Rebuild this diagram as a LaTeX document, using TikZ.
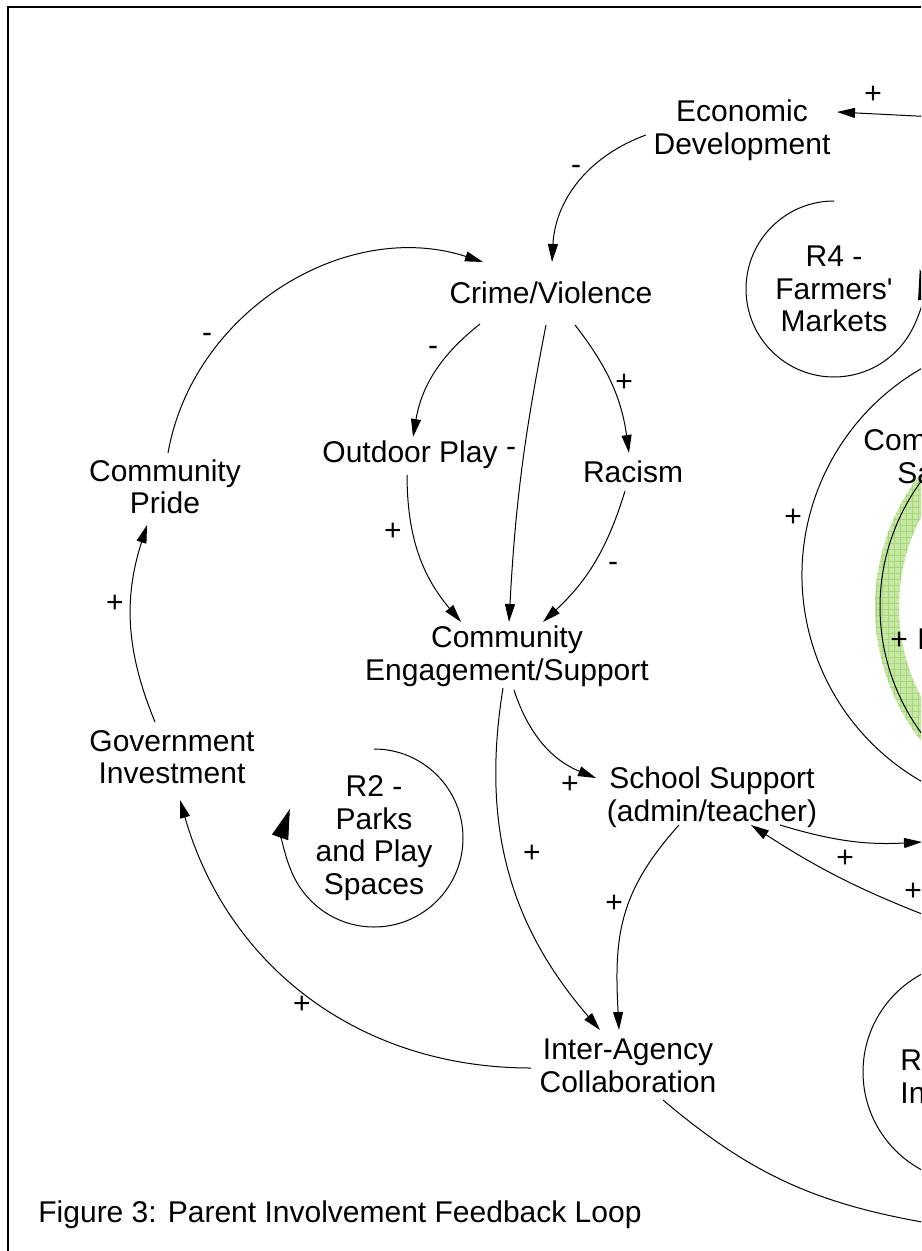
\documentclass[tikz,border=0pt]{standalone}
\usepackage{fontspec}
\setmainfont{Liberation Sans}
\usetikzlibrary{arrows.meta,calc,patterns}
\definecolor{bandgreen}{RGB}{198,232,164}
\definecolor{gridgreen}{RGB}{166,214,122}
\newcommand{\cldfont}{\fontsize{15}{16.25}\selectfont}

\begin{document}
\begin{tikzpicture}[
    x=0.5pt, y=0.5pt,
    var/.style={align=center,inner sep=0pt,font=\cldfont},
    pol/.style={inner sep=0pt,font=\cldfont,text height=10.5pt,text depth=0pt},
    link/.style={-{Triangle[length=9pt,width=5pt]},line width=0.5pt},
    loopline/.style={-{Triangle[length=15pt,width=8.5pt]},line width=0.5pt}
]
\path[use as bounding box] (0,0) rectangle (921,-1251);
\fill[white] (0,0) rectangle (921,-1251);
\clip (0,0) rectangle (921,-1251);

% highlighted link
\fill[bandgreen,postaction={pattern=grid,pattern color=gridgreen}]
  (1093,-607) ++(130:218) arc[start angle=130,end angle=230,radius=218]
  -- ($(1093,-607)+(230:194)$) arc[start angle=230,end angle=130,radius=194] -- cycle;

% frame
\draw[line width=1.2pt] (8,-1270) -- (8,-7) -- (940,-7);

% ends outside the picture
\coordinate (offE) at (975,-119);
\coordinate (offF) at (922,-842);
\coordinate (offG) at (940,-921);
\coordinate (offH) at (922,-1222);
\coordinate (offI) at ($(1040,-575)+(110:238)$);
\coordinate (offJ) at ($(1093,-607)+(130:213)$);
\coordinate (r3c) at (974,-1072);

% variables
\node[var] (ed)  at (742,-130)  {Economic\\Development};
\node[var] (cv)  at (551,-293)  {Crime/Violence};
\node[var] (op)  at (410,-455)  {Outdoor Play};
\node[var] (ra)  at (633,-472)  {Racism};
\node[var] (ce)  at (507,-656)  {Community\\Engagement/Support};
\node[var] (cp)  at (165,-487)  {Community\\Pride};
\node[var] (gi)  at (172,-757)  {Government\\Investment};
\node[var] (ss)  at (712,-797)  {School Support\\(admin/teacher)};
\node[var] (iac) at (628,-1066) {Inter-Agency\\Collaboration};
\node[var,anchor=west] (cs1) at (863,-440) {Com};
\node[var,anchor=west] (cs2) at (897,-473) {Sa};
\node[var,anchor=west] (ri1) at (900,-1060) {R};
\node[var,anchor=west] (ri2) at (900,-1093) {In};
\node[var,anchor=west] (pv)  at (917,-639) {P};

% loops
\node[var] (r4) at (834,-289) {R4 -\\Farmers\textquotesingle\\Markets};
\node[var] (r2) at (374,-838) {R2 -\\Parks\\and Play\\Spaces};
\draw[loopline] (r4) ++(90:88) arc[start angle=90,end angle=373,radius=88];
\draw[loopline] (r2) ++(90:89) arc[start angle=90,end angle=-199,radius=89];
\draw[line width=0.5pt] (r3c) circle[radius=111];

% links
\draw[link] (offE) -- ($(ed)+(95,18)$);
\draw[link] ($(ed)+(-96,-5)$) to[out=200,in=87] ($(cv)+(1,31)$);
\draw[link] ($(cp)+(3,34)$) to[out=80,in=162] ($(cv)+(-68,31)$);
\draw[link] ($(cv)+(-71,-31)$) to[bend right=21] ($(op)+(3,18)$);
\draw[link] ($(cv)+(-5,-32)$) to[bend right=4] ($(ce)+(2,34)$);
\draw[link] ($(cv)+(24,-32)$) to[bend left=15] ($(ra)+(-4,19)$);
\draw[link] ($(op)+(-3,-20)$) to[bend right=20] ($(ce)+(-46,34)$);
\draw[link] ($(ra)+(-8,-19)$) to[bend left=15] ($(ce)+(36,34)$);
\draw[link] ($(ce)+(7,-34)$) to[out=-72,in=158] ($(ss)+(-116,19)$);
\draw[link] ($(ce)+(-4,-32)$) to[bend right=25] ($(iac)+(-28,36)$);
\draw[link] ($(ss)+(-33,-28)$) to[out=-132,in=93,looseness=1.1] ($(iac)+(-9,36)$);
\draw[link] ($(ss)+(68,-28)$) to[bend right=10] (offF);
\draw[link] (offG) to[bend left=6] ($(ss)+(39,-28)$);
\draw[line width=0.5pt] ($(iac)+(35,-34)$) to[bend right=15] (offH);
\draw[link] ($(iac)+(-97,-2)$) to[out=180,in=-74] ($(gi)+(8,-43)$);
\draw[link] ($(gi)+(-17,35)$) to[bend left=20] ($(cp)+(-18,-38)$);
\draw[line width=0.5pt] (offI) arc[start angle=110,end angle=250,radius=238];
\draw[line width=0.5pt] (offJ) arc[start angle=130,end angle=230,radius=213];

% polarities
\node[pol] (s1)  at (873,-93)   {+};
\node[pol] (s2)  at (576,-164)  {-};
\node[pol] (s3)  at (207,-332)  {-};
\node[pol] (s4)  at (433,-345)  {-};
\node[pol] (s5)  at (511,-446)  {-};
\node[pol] (s6)  at (624,-381)  {+};
\node[pol] (s7)  at (393,-530)  {+};
\node[pol] (s8)  at (613,-561)  {-};
\node[pol] (s9)  at (570,-783)  {+};
\node[pol] (s10) at (532,-852)  {+};
\node[pol] (s11) at (614,-902)  {+};
\node[pol] (s12) at (845,-857)  {+};
\node[pol] (s13) at (913,-890)  {+};
\node[pol] (s14) at (302,-1003) {+};
\node[pol] (s15) at (115,-602)  {+};
\node[pol] (s16) at (793,-516)  {+};
\node[pol] (s17) at (899,-639)  {+};

% caption
\node[var,anchor=west] (cap) at (38,-1215) {Figure 3: Parent Involvement Feedback Loop};
\end{tikzpicture}
\end{document}
